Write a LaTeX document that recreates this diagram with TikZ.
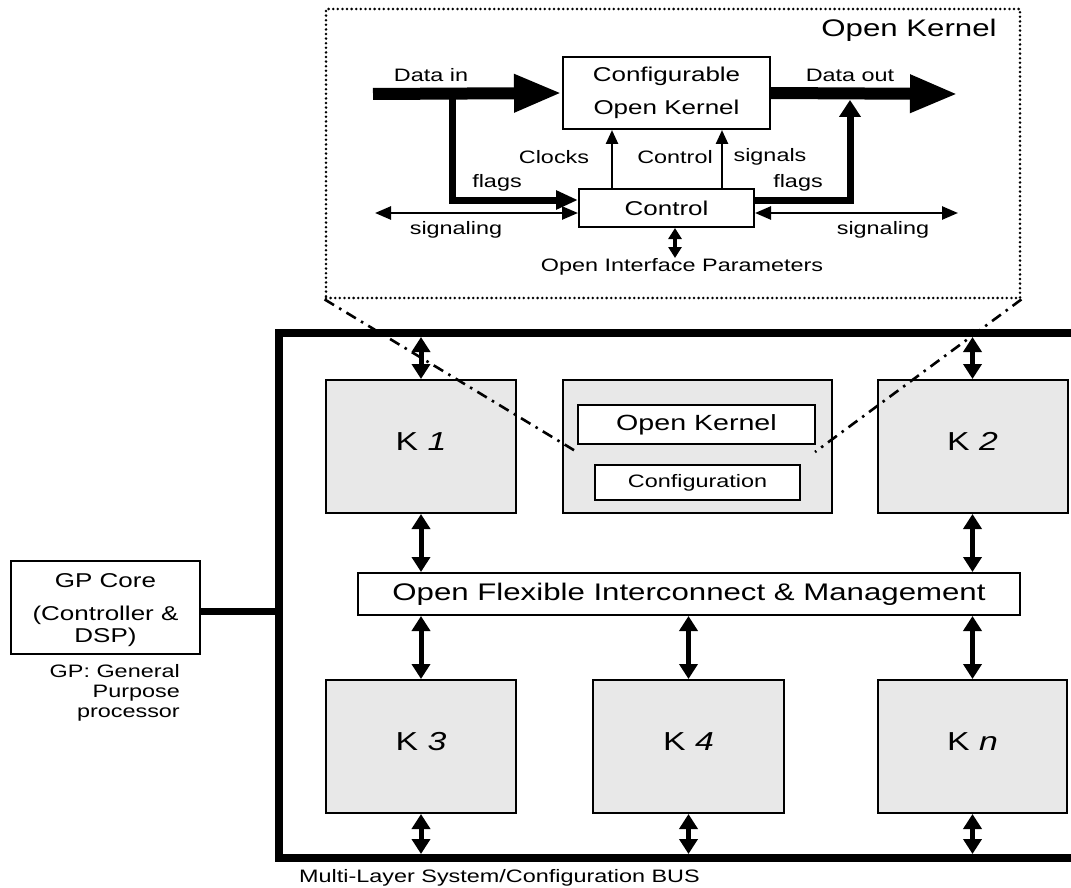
\documentclass[tikz,border=0pt]{standalone}
\usepackage{fontspec}
\setmainfont{Liberation Sans}[FakeStretch=1.3]
\usetikzlibrary{arrows.meta}
\definecolor{kgrey}{RGB}{232,232,232}
\begin{document}
\begin{tikzpicture}[x=1pt,y=-1pt,
  every node/.style={inner sep=0pt},
  box/.style={draw=black, line width=2pt, fill=white},
  kbox/.style={box, fill=kgrey},
  lab/.style={font=\fontsize{18}{20}\selectfont},
  klab/.style={font=\fontsize{26}{28}\selectfont},
  frame/.style={draw=black, line width=2.8pt, line cap=round, dash pattern=on 0pt off 4.6pt},
  zoomline/.style={line width=2.6pt, dash pattern=on 11pt off 6pt on 2.5pt off 6pt},
  bidir/.style={line width=5pt, {Triangle[width=18pt,length=15pt]}-{Triangle[width=18pt,length=15pt]}},
  fat/.style={line width=12pt, -{Triangle[width=35pt,length=48pt]}},
  flagar/.style={line width=7pt, line join=miter},
  thinar/.style={line width=2.5pt, -{Triangle[width=12pt,length=14pt]}},
  sigar/.style={line width=2.5pt, {Triangle[width=13pt,length=16pt]}-{Triangle[width=13pt,length=16pt]}},
  oipar/.style={line width=3.5pt, {Triangle[width=13pt,length=11pt]}-{Triangle[width=13pt,length=11pt]}}
]
\useasboundingbox (0,0) rectangle (1071,888);

% ---------------- system bus ----------------
\coordinate (busNE) at (1071,333);
\coordinate (busNW) at (279,333);
\coordinate (busSW) at (279,858);
\coordinate (busSE) at (1071,858);
\draw[line width=8.5pt, line join=miter] (busNE) -- (busNW) -- (busSW) -- (busSE);

% ---------------- kernels ----------------
\node[kbox, minimum width=190pt, minimum height=133pt] (k1) at (421,446.5) {};
\node[kbox, minimum width=269pt, minimum height=133pt] (ok) at (697.5,446.5) {};
\node[box, minimum width=237pt, minimum height=39pt, font=\fontsize{22}{24}\selectfont] (okin) at (696.5,424.5) {Open Kernel};
\node[box, minimum width=205pt, minimum height=35pt, font=\fontsize{18}{20}\selectfont] (cfg) at (697.5,482.5) {Configuration};
\node[kbox, minimum width=190pt, minimum height=133pt] (k2) at (972.5,446.5) {};
\node[box, minimum width=662pt, minimum height=42pt, font=\fontsize{24}{26}\selectfont] (ic) at (689,594) {Open Flexible Interconnect \& Management};
\node[kbox, minimum width=190pt, minimum height=133pt] (k3) at (421,746.5) {};
\node[kbox, minimum width=191pt, minimum height=133pt] (k4) at (688.5,746.5) {};
\node[kbox, minimum width=189pt, minimum height=133pt] (kn) at (972.5,746.5) {};

\node[klab] (k1l) at ([yshift=5pt]k1.center) {K \textit{1}};
\node[klab] (k2l) at ([yshift=5pt]k2.center) {K \textit{2}};
\node[klab] (k3l) at ([yshift=5pt]k3.center) {K \textit{3}};
\node[klab] (k4l) at ([yshift=5pt]k4.center) {K \textit{4}};
\node[klab] (knl) at ([yshift=5pt]kn.center) {K \textit{n}};

% links to the bus and to the interconnect
\draw[bidir] (k1.north |- 0,337) -- (k1.north);
\draw[bidir] (k2.north |- 0,337) -- (k2.north);
\draw[bidir] (k1.south) -- (k1.south |- ic.north);
\draw[bidir] (k2.south) -- (k2.south |- ic.north);
\draw[bidir] (k3.north |- ic.south) -- (k3.north);
\draw[bidir] (k4.north |- ic.south) -- (k4.north);
\draw[bidir] (kn.north |- ic.south) -- (kn.north);
\draw[bidir] (k3.south) -- (k3.south |- 0,854);
\draw[bidir] (k4.south) -- (k4.south |- 0,854);
\draw[bidir] (kn.south) -- (kn.south |- 0,854);

\node[lab, anchor=west] (buslab) at (299,878) {Multi-Layer System/Configuration BUS};

% ---------------- general purpose core ----------------
\node[box, minimum width=189pt, minimum height=93pt] (gp) at (105.5,607.5) {};
\node[font=\fontsize{20}{22}\selectfont] (gp1) at (105.5,581) {GP Core};
\node[font=\fontsize{20}{22}\selectfont] (gp2) at (105.5,615) {(Controller \&};
\node[font=\fontsize{20}{22}\selectfont] (gp3) at (105.5,637) {DSP)};
\draw[line width=7pt] ([yshift=-4pt]gp.east) -- ([yshift=-4pt]gp.east -| busNW);
\node[lab, anchor=north east, align=right, font=\fontsize{18}{20}\selectfont] (gpnote) at (180,664) {GP: General\\Purpose\\processor};

% ---------------- open kernel detail ----------------
\node[frame, minimum width=694pt, minimum height=289pt] (okf) at (673,153.5) {};
\node[font=\fontsize{24}{26}\selectfont] (okt) at (909,30) {Open Kernel};

\node[box, minimum width=207pt, minimum height=72pt, align=center, font=\fontsize{20}{33}\selectfont] (cok) at (666.5,93) {Configurable\\Open Kernel};
\node[box, minimum width=175pt, minimum height=38pt, font=\fontsize{20}{22}\selectfont] (ctl) at (666.5,208) {Control};

\coordinate (din) at (373,94);
\coordinate (dout) at (958,94);
\coordinate (fl) at (452,94);
\coordinate (fr) at (850,100);
\coordinate (sl) at (375,213);
\coordinate (sr) at (958,213);
\coordinate (oipend) at (675,258);

\draw[flagar, -{Triangle[width=18pt,length=22pt]}] (fl) |- ([yshift=8pt]ctl.west);
\draw[flagar, -{Triangle[width=21pt,length=17pt]}] ([yshift=8pt]ctl.east) -| (fr);
\draw[fat] (din) -- (cok.west);
\draw[fat] (cok.east) -- (dout);
\draw[thinar] ([xshift=-54.5pt]ctl.north) -- ([xshift=-54.5pt]ctl.north |- cok.south);
\draw[thinar] ([xshift=55.5pt]ctl.north) -- ([xshift=55.5pt]ctl.north |- cok.south);
\draw[sigar] (sl) -- ([yshift=-5pt]ctl.west);
\draw[sigar] ([yshift=-5pt]ctl.east) -- (sr);
\draw[oipar] ([xshift=8.5pt]ctl.south) -- (oipend);

\node[lab] (ldin) at (431,75) {Data in};
\node[lab] (ldout) at (850,75) {Data out};
\node[lab] (lclk) at (554,157) {Clocks};
\node[lab] (lctl) at (675,157) {Control};
\node[lab] (lsig) at (770,157) {signals};
\node[lab] (lfl) at (497,183) {flags};
\node[lab] (lfr) at (798,183) {flags};
\node[lab] (lsl) at (456,230) {signaling};
\node[lab] (lsr) at (883,230) {signaling};
\node[lab] (loip) at (682,267) {Open Interface Parameters};

% ---------------- zoom lines ----------------
\coordinate (zl) at (577,452);
\coordinate (zr) at (815,452);
\draw[zoomline] (okf.south west) -- (zl);
\draw[zoomline] (okf.south east) -- (zr);
\end{tikzpicture}
\end{document}
